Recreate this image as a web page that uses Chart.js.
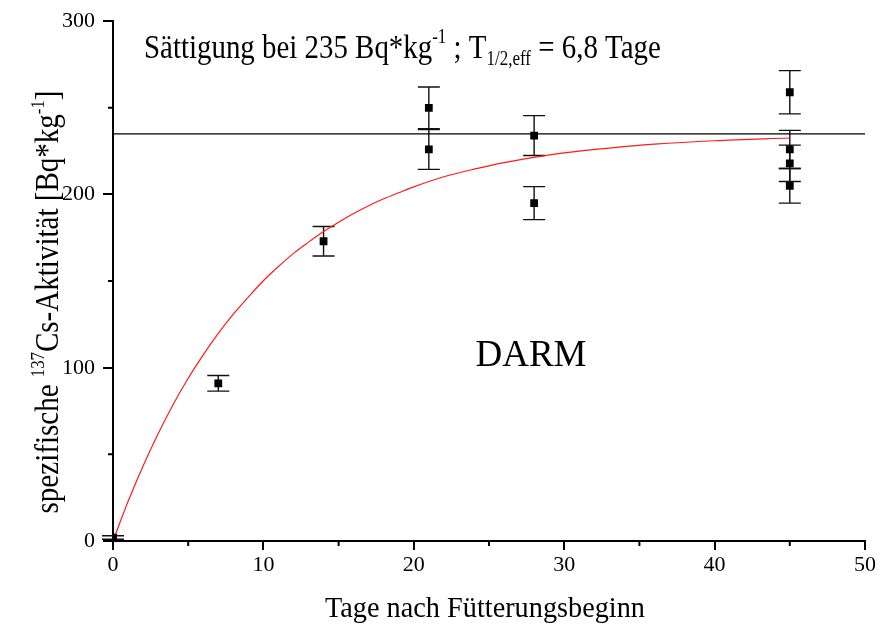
<!DOCTYPE html>
<html>
<head>
<meta charset="utf-8">
<script src="https://cdn.jsdelivr.net/npm/chart.js@4.4.0/dist/chart.umd.min.js"></script>
<style>
	html, body { margin: 0; padding: 0; background: #fff; }
	#wrap { width: 882px; height: 631px; }
</style>
</head>
<body>
<div id="wrap"><canvas id="chart"></canvas></div>
<script>
// measured points (day, activity, error)
const DAYS = [0, 7, 14, 21, 21, 28, 28, 45, 45, 45, 45];
const ACTIVITY = [2, 91, 173, 250, 226, 234, 195, 259, 226, 218, 205];
const ERRORS = [1, 4.5, 8.5, 12, 11.5, 11.5, 9.5, 12.5, 11, 10.5, 10];

// red fit curve
const FIT_DAYS = [0, 1, 2, 3, 4, 5, 6, 7, 8, 9, 10, 11, 12, 13, 14, 15, 16, 17, 18, 19, 20, 22, 24, 26, 28, 30, 33, 36, 40, 45];
const FIT_VALUES = [0, 22.8, 43.3, 61.9, 78.8, 93.9, 107.4, 119.8, 130.9, 140.8, 150.2, 158.4, 166, 172.5, 178.6, 184, 189, 193.5, 197.5, 201, 204.4, 210.2, 214.6, 218.4, 221.4, 224, 226.8, 229, 231, 232.6];

// saturation line
const SAT_DAYS = [0, 50];
const SAT_VALUES = [235, 235];

const X_MINOR = [5, 15, 25, 35, 45];
const Y_MINOR = [50, 150, 250];

const FONT = "'Liberation Serif', 'Times New Roman', serif";
const WRAPPER = document.getElementById("chart");

const zip = (xs, ys) => xs.map((x, i) => ({ x, y: ys[i] }));

// draw a run of text pieces with sizes and baseline shifts, squeezed by sx
const richText = (ctx, parts, x, y, center, sx) => {
	let w = 0;
	parts.forEach((p) => {
		ctx.font = `${p.size}px ${FONT}`;
		w += ctx.measureText(p.t).width;
	});
	ctx.save();
	ctx.translate(x, y);
	ctx.scale(sx, 1);
	let cx = center ? -w / 2 : 0;
	parts.forEach((p) => {
		ctx.font = `${p.size}px ${FONT}`;
		ctx.fillText(p.t, cx, p.dy || 0);
		cx += ctx.measureText(p.t).width;
	});
	ctx.restore();
};

const extras = {
	id: "extras",
	beforeDatasetsDraw(chart) {
		const { ctx, scales: { x, y } } = chart;
		ctx.save();
		ctx.strokeStyle = "#111";
		ctx.lineWidth = 1.4;
		DAYS.forEach((d, i) => {
			const px = x.getPixelForValue(d);
			const top = y.getPixelForValue(ACTIVITY[i] + ERRORS[i]);
			const bot = y.getPixelForValue(ACTIVITY[i] - ERRORS[i]);
			ctx.beginPath();
			ctx.moveTo(px, top);
			ctx.lineTo(px, bot);
			ctx.moveTo(px - 11, top);
			ctx.lineTo(px + 11, top);
			ctx.moveTo(px - 11, bot);
			ctx.lineTo(px + 11, bot);
			ctx.stroke();
		});
		ctx.restore();
	},
	afterDraw(chart) {
		const { ctx, chartArea, scales: { x, y } } = chart;
		ctx.save();
		// minor ticks
		ctx.strokeStyle = "#000";
		ctx.lineWidth = 2;
		ctx.beginPath();
		X_MINOR.forEach((v) => {
			const px = x.getPixelForValue(v);
			ctx.moveTo(px, chartArea.bottom);
			ctx.lineTo(px, chartArea.bottom + 5);
		});
		Y_MINOR.forEach((v) => {
			const py = y.getPixelForValue(v);
			ctx.moveTo(chartArea.left, py);
			ctx.lineTo(chartArea.left - 5, py);
		});
		ctx.stroke();

		ctx.fillStyle = "#000";
		ctx.textBaseline = "alphabetic";
		ctx.textAlign = "left";

		// x title
		richText(ctx, [{ t: "Tage nach Fütterungsbeginn", size: 29 }], 485, 617, true, 0.975);

		// y title
		ctx.save();
		ctx.translate(58, 302);
		ctx.rotate(-Math.PI / 2);
		richText(ctx, [
			{ t: "spezifische ", size: 33 },
			{ t: "137", size: 19, dy: -14 },
			{ t: "Cs-Aktivität [Bq*kg", size: 33 },
			{ t: "-1", size: 19, dy: -14 },
			{ t: "]", size: 33 },
		], 0, 0, true, 0.88);
		ctx.restore();

		// annotation
		richText(ctx, [
			{ t: "Sättigung bei 235 Bq*kg", size: 34 },
			{ t: "-1", size: 20, dy: -15 },
			{ t: " ; T", size: 34 },
			{ t: "1/2,eff", size: 20, dy: 7 },
			{ t: " = 6,8 Tage", size: 34 },
		], 144, 58, false, 0.85);

		richText(ctx, [{ t: "DARM", size: 37 }], 531, 366, true, 1);
		ctx.restore();
	},
};

const DATA = {
	datasets: [
		{
			type: "scatter",
			data: zip(DAYS, ACTIVITY),
			pointStyle: "rect",
			pointRadius: 5.5,
			backgroundColor: "#000",
			borderColor: "#000",
			borderWidth: 0,
			order: 0,
		},
		{
			type: "line",
			data: zip(FIT_DAYS, FIT_VALUES),
			borderColor: "#ff1a1a",
			borderWidth: 1.2,
			pointRadius: 0,
			cubicInterpolationMode: "monotone",
			fill: false,
			order: 1,
		},
		{
			type: "line",
			data: zip(SAT_DAYS, SAT_VALUES),
			borderColor: "#000",
			borderWidth: 1.2,
			pointRadius: 0,
			fill: false,
			order: 2,
		},
	],
};

// Chart config
const CONFIG = {
	type: "scatter",
	data: DATA,
	options: {
		animation: false,
		responsive: true,
		maintainAspectRatio: false,
		layout: { padding: { top: 20, right: 17, left: 0, bottom: 0 } },
		plugins: {
			legend: { display: false },
			tooltip: { enabled: false },
		},
		scales: {
			x: {
				type: "linear",
				min: 0,
				max: 50,
				afterFit: (s) => { s.height = 90; },
				border: { display: true, color: "#000", width: 2 },
				grid: {
					drawOnChartArea: false,
					drawTicks: true,
					tickLength: 9,
					lineWidth: 2,
					tickColor: "#000",
				},
				ticks: {
					stepSize: 10,
					color: "#000",
					padding: 2,
					font: { family: FONT, size: 22 },
				},
			},
			y: {
				type: "linear",
				min: 0,
				max: 300,
				afterFit: (s) => { s.width = 113; },
				border: { display: true, color: "#000", width: 2 },
				grid: {
					drawOnChartArea: false,
					drawTicks: true,
					tickLength: 10,
					lineWidth: 2,
					tickColor: "#000",
				},
				ticks: {
					stepSize: 100,
					color: "#000",
					padding: 8,
					font: { family: FONT, size: 22 },
				},
			},
		},
	},
	plugins: [extras],
};

// Init chart
if (WRAPPER) {
	new Chart(WRAPPER, CONFIG);
}
</script>
</body>
</html>
